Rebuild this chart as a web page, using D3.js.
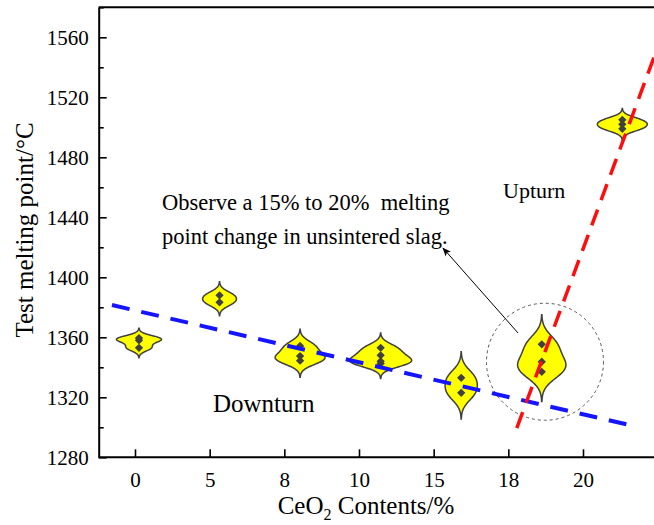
<!DOCTYPE html>
<html>
<head>
<meta charset="utf-8">
<script src="https://cdn.jsdelivr.net/npm/d3@7"></script>
<style>
body { margin: 0; background: #fff; }
text { font-family: "Liberation Serif", "Times New Roman", serif; fill: #000; }
</style>
</head>
<body>
<svg id="chart" width="654" height="525"></svg>
<script>
// CeO2 content groups and measured melting points (deg C)
var categories = ["0", "5", "8", "10", "15", "18", "20"];
var samples = [
	[1359.5, 1358, 1353],
	[1388, 1383.3],
	[1354.2, 1347.5, 1344.4],
	[1353, 1348, 1344, 1342.5],
	[1333, 1323],
	[1355.3, 1343.7, 1337],
	[1505, 1502, 1499]
];
var bandwidth = [2.2, 3, 3.7, 3.3, 5.8, 6.6, 2.5];
var violinWidth = [0.28, 0.21, 0.31, 0.385, 0.2, 0.3, 0.31]; // half width, category units
var yTicks = [1280, 1320, 1360, 1400, 1440, 1480, 1520, 1560];
var yMinor = [1300, 1340, 1380, 1420, 1460, 1500, 1540, 1580];
var downTrend = [[-0.335, 1381.5], [6.195, 1300.2]];
var upTrend = [[4.69, 1299.5], [6.45, 1555]];
var arrowPts = [[4.705, 1362.9], [3.774, 1419.5]];
var highlight = [5.04, 1343.7];

var svg = d3.select("#chart");
// violins sit on a linear index scale, the axis labels on their own point scale
var x = d3.scaleLinear().domain([-0.5, 6.5]).range([98.7, 662.6]);
var xTick = d3.scalePoint().domain(categories).range([135, 583]);
var y = d3.scaleLinear().domain([1280, 1580]).range([457.3, 7.3]);

svg.append("defs").append("marker").attr("id", "head").attr("viewBox", "0 0 10 10").attr("refX", "9").attr("refY", "5").attr("markerWidth", "9").attr("markerHeight", "9").attr("markerUnits", "userSpaceOnUse").attr("orient", "auto").append("path").attr("d", "M0,1 L10,5 L0,9 L2.5,5 Z").attr("fill", "#000");

// violins
function kde (vals, h) {
	var lo = d3.min(vals) - 3 * h, hi = d3.max(vals) + 3 * h;
	return d3.range(81).map(function (i) {
		var v = lo + (hi - lo) * i / 80;
		return [v, d3.sum(vals, function (s) { return Math.exp(-0.5 * Math.pow((v - s) / h, 2)); })];
	});
}
var violinLayer = svg.append("g");
samples.forEach(function (vals, i) {
	var dens = kde(vals, bandwidth[i]);
	var peak = d3.max(dens, function (p) { return p[1]; });
	var cx = x(i), w = x(violinWidth[i]) - x(0);
	var area = d3.area().y(function (p) { return y(p[0]); }).x0(function (p) { return cx - w * p[1] / peak; }).x1(function (p) { return cx + w * p[1] / peak; }).curve(d3.curveCatmullRom);
	violinLayer.append("path").attr("d", area(dens)).attr("fill", "#ffff00").attr("stroke", "#404040").attr("stroke-width", "1.5");
	violinLayer.selectAll(null).data(vals).enter().append("path").attr("d", d3.symbol().type(d3.symbolDiamond2).size(44)).attr("transform", function (v) { return "translate(" + cx + "," + y(v) + ")"; }).attr("fill", "#404040");
});

// highlight circle and arrow
svg.append("circle").attr("cx", x(highlight[0])).attr("cy", y(highlight[1])).attr("r", 58.5).attr("fill", "none").attr("stroke", "#555").attr("stroke-width", "1").attr("stroke-dasharray", "3,3");
svg.append("line").attr("x1", x(arrowPts[0][0])).attr("y1", y(arrowPts[0][1])).attr("x2", x(arrowPts[1][0])).attr("y2", y(arrowPts[1][1])).attr("stroke", "#000").attr("stroke-width", "1").attr("marker-end", "url(#head)");

// trend lines
var line = d3.line().x(function (d) { return x(d[0]); }).y(function (d) { return y(d[1]); });
svg.append("path").attr("d", line(downTrend)).attr("stroke", "#1414ff").attr("stroke-width", "4").attr("stroke-dasharray", "18,12").attr("fill", "none");
svg.append("path").attr("d", line(upTrend)).attr("stroke", "#ff0d0d").attr("stroke-width", "3.5").attr("stroke-dasharray", "17,10").attr("fill", "none");

// axes
svg.append("g").attr("transform", "translate(" + x(-0.5) + ",0)").call(d3.axisLeft(y).tickValues(yTicks).tickFormat(d3.format("d")).tickSizeInner(-8).tickSizeOuter(0).tickPadding(10));
svg.append("g").attr("transform", "translate(" + x(-0.5) + ",0)").call(d3.axisLeft(y).tickValues(yMinor).tickSizeInner(-5).tickSizeOuter(0).tickFormat("")).select(".domain").remove();
var xAxis = svg.append("g").attr("transform", "translate(0," + y(1280) + ")").call(d3.axisBottom(xTick).tickSizeInner(-8).tickSizeOuter(0).tickPadding(15));
xAxis.select(".domain").attr("d", "M" + x(-0.5) + ",0H" + x(6.5));
svg.append("line").attr("x1", x(-0.5)).attr("x2", x(6.5)).attr("y1", y(1580)).attr("y2", y(1580)).attr("stroke", "#000").attr("stroke-width", "2");
svg.selectAll(".domain").attr("stroke", "#000").attr("stroke-width", "2");
svg.selectAll(".tick line").attr("stroke", "#000").attr("stroke-width", "1.6");
svg.selectAll(".tick text").style("font-family", "'Liberation Serif', 'Times New Roman', serif").style("font-size", "21px").attr("fill", "#000");

// titles
svg.append("text").attr("transform", "translate(33,230) rotate(-90)").attr("text-anchor", "middle").style("font-size", "25px").text("Test melting point/°C");
var xt = svg.append("text").attr("x", 366).attr("y", 514).attr("text-anchor", "middle").style("font-size", "25px");
xt.append("tspan").text("CeO");
xt.append("tspan").attr("dy", 6).style("font-size", "16px").text("2");
xt.append("tspan").attr("dy", -6).text(" Contents/%");

// annotations
svg.append("text").attr("x", 213).attr("y", 412).style("font-size", "25px").text("Downturn");
svg.append("text").attr("x", 503).attr("y", 198).style("font-size", "22px").text("Upturn");
svg.append("text").attr("x", 162).attr("y", 210).style("font-size", "22.5px").style("white-space", "pre").text("Observe a 15% to 20%  melting");
svg.append("text").attr("x", 162).attr("y", 244).style("font-size", "22.5px").text("point change in unsintered slag.");
</script>
</body>
</html>
